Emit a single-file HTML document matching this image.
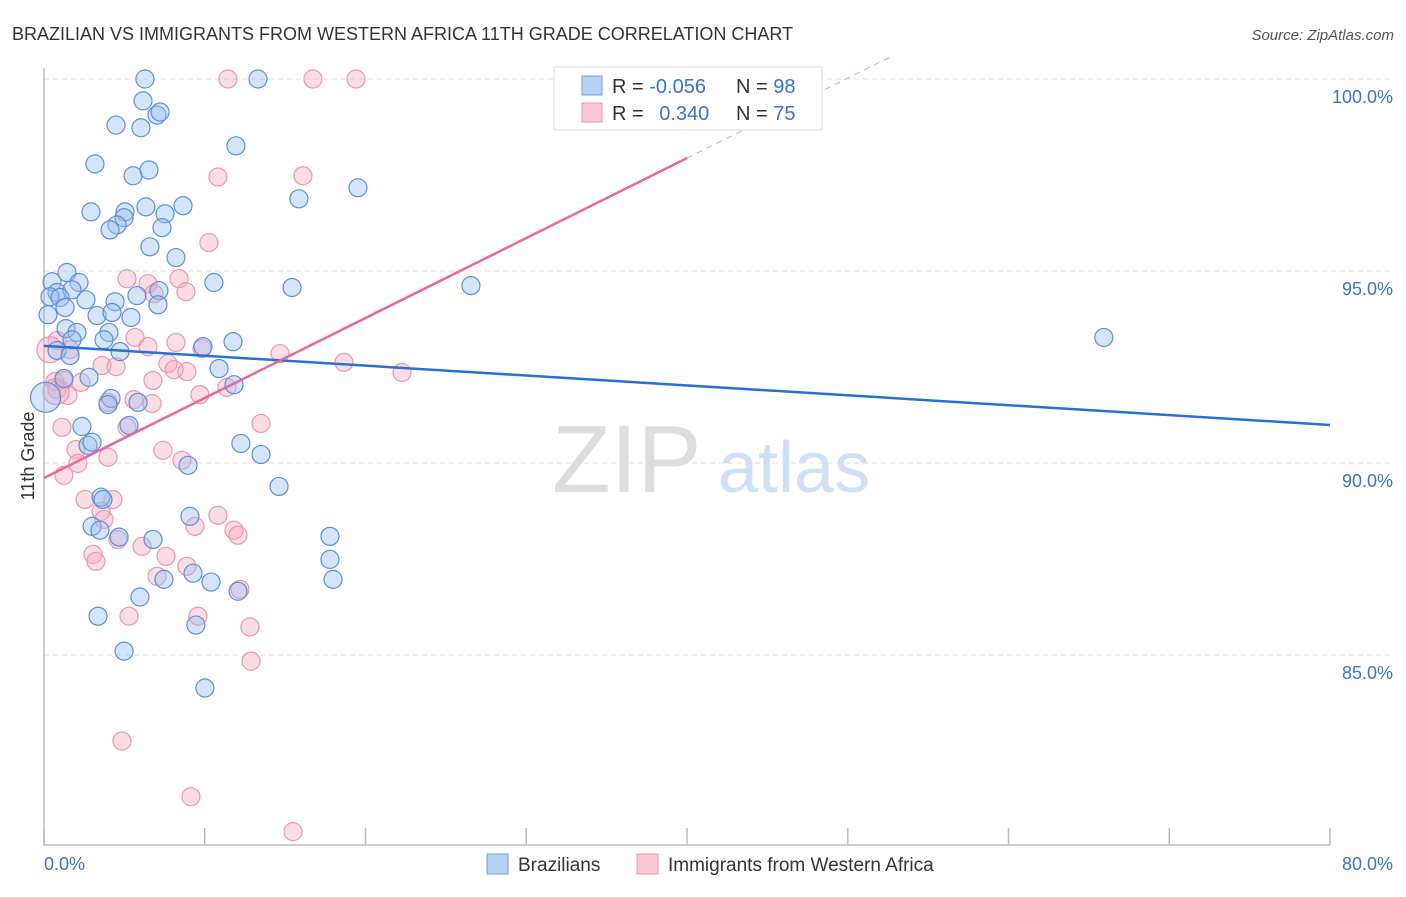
<!DOCTYPE html>
<html><head><meta charset="utf-8"><style>
body{margin:0;background:#fff;font-family:"Liberation Sans",sans-serif;}
svg text{font-family:"Liberation Sans",sans-serif;}
</style></head><body>
<svg id="chart" width="1406" height="892" xmlns="http://www.w3.org/2000/svg">
<text x="12" y="40" font-size="18" fill="#333">BRAZILIAN VS IMMIGRANTS FROM WESTERN AFRICA 11TH GRADE CORRELATION CHART</text>
<text x="1394" y="40" font-size="15" fill="#555" text-anchor="end" font-style="italic">Source: ZipAtlas.com</text>
<text x="552" y="492" font-size="96" fill="#ddd" font-family="Liberation Serif">ZIP</text>
<text x="718" y="492" font-size="72" fill="#cfe0f5">atlas</text>
<g id="grid"></g>
<g id="axes"></g>
<g id="pink"></g>
<g id="blue"></g>
<g id="trends"></g>
<text transform="translate(34,456) rotate(-90)" font-size="18" fill="#333" text-anchor="middle">11th Grade</text>
<g>
<rect x="554" y="67" width="268" height="63" fill="#fff" stroke="#ddd"/>
<rect x="582" y="76" width="20" height="19" fill="#b7d0f3" stroke="#6d9ce0"/>
<rect x="582" y="103" width="20" height="19" fill="#f9c6d4" stroke="#ec95ad"/>
<text x="612" y="93" font-size="20" fill="#333">R = <tspan fill="#3a72d0">-0.056</tspan></text>
<text x="736" y="93" font-size="20" fill="#333">N = <tspan fill="#3a72d0">98</tspan></text>
<text x="612" y="120" font-size="20" fill="#333">R = <tspan fill="#3a72d0" dx="10">0.340</tspan></text>
<text x="736" y="120" font-size="20" fill="#333">N = <tspan fill="#3a72d0">75</tspan></text>
</g>
<g>
<rect x="487" y="854" width="21" height="20" fill="#b7d0f3" stroke="#6d9ce0"/>
<text x="518" y="871" font-size="19" fill="#333">Brazilians</text>
<rect x="637" y="854" width="21" height="20" fill="#f9c6d4" stroke="#ec95ad"/>
<text x="668" y="871" font-size="19" fill="#333">Immigrants from Western Africa</text>
</g>
</svg>
<script>
const yTicks=[100,95,90,85];
const yTickLabels=["100.0%","95.0%","90.0%","85.0%"];
const xTicks=[0,10,20,30,40,50,60,70,80];
const blueX=[6.28,13.31,6.16,7.03,7.22,4.48,6.03,11.94,3.17,5.54,6.53,19.53,15.86,2.92,6.34,8.65,5.04,7.53,4.98,4.54,4.11,7.34,6.59,8.21,0.5,1.43,2.18,10.57,15.43,26.56,0.81,0.37,1.74,1.0,2.61,4.42,5.78,7.15,7.09,1.31,0.25,3.3,4.23,5.41,1.37,2.05,4.04,3.73,1.74,11.76,9.89,4.73,0.81,1.62,10.89,65.93,11.82,2.8,1.24,4.17,5.85,3.98,2.36,5.29,12.25,13.5,2.74,2.99,8.96,14.62,3.55,3.67,9.08,2.99,3.48,4.67,6.78,17.79,17.79,9.27,7.46,10.39,17.98,12.07,5.97,9.45,3.36,4.98,10.01,0.1];
const blueY=[100,100,99.43,99.06,99.14,98.8,98.73,98.26,97.79,97.48,97.63,97.17,96.88,96.54,96.67,96.7,96.54,96.49,96.39,96.2,96.07,96.13,95.63,95.35,94.72,94.96,94.7,94.7,94.57,94.62,94.44,94.33,94.51,94.31,94.25,94.2,94.36,94.49,94.12,94.05,93.86,93.84,93.92,93.79,93.5,93.4,93.4,93.21,93.21,93.16,93.03,92.9,92.93,92.8,92.46,93.27,92.04,92.23,92.2,91.68,91.58,91.52,90.95,90.98,90.51,90.22,90.46,90.54,89.94,89.39,89.11,89.05,88.61,88.35,88.25,88.07,88.01,88.09,87.49,87.13,86.97,86.9,86.97,86.66,86.51,85.78,86.01,85.1,84.14,91.71];
const pinkX=[11.44,16.73,19.41,10.82,16.11,10.26,5.16,6.47,8.4,8.83,6.84,0.81,1.62,5.66,8.21,6.47,9.83,14.68,18.66,22.27,3.61,4.48,7.71,8.89,8.09,0.68,1.24,2.3,0.81,1.49,6.78,11.38,9.7,5.6,3.98,6.72,13.5,5.16,1.12,1.99,7.4,8.58,3.98,2.11,1.24,2.55,4.29,3.55,3.73,10.82,9.39,11.82,12.07,4.6,6.1,7.59,3.05,3.23,7.03,8.89,12.19,5.29,9.58,12.81,12.88,4.85,9.14,15.49,0.75,0.37];
const pinkY=[100,100,100,97.45,97.48,95.74,94.8,94.67,94.8,94.46,94.41,93.19,92.95,93.27,93.14,93.03,92.98,92.85,92.62,92.36,92.54,92.51,92.59,92.38,92.43,92.12,92.15,92.1,91.91,91.76,92.15,91.97,91.78,91.65,91.58,91.55,91.03,90.93,90.93,90.35,90.33,90.07,90.15,89.99,89.68,89.05,89.05,88.74,88.53,88.64,88.35,88.25,88.12,88.01,87.83,87.57,87.62,87.44,87.05,87.31,86.71,86.01,86.01,85.73,84.84,82.76,81.31,80.4,91.86,92.95];
const blueTrend=[93.05,90.99];
const pinkTrend=[89.61,97.94];
const NS="http://www.w3.org/2000/svg";
const X=v=>44+v/80*1286;
const Y=v=>79+(100-v)/5*192;
function mk(parent,tag,attrs){const e=document.createElementNS(NS,tag);for(const k in attrs)e.setAttribute(k,attrs[k]);document.getElementById(parent).appendChild(e);return e;}
yTicks.forEach((t,i)=>{
 const l=mk('grid','line',{x1:44,x2:1393,y1:Y(t),y2:Y(t),stroke:'#ddd','stroke-dasharray':'5,4'});
 
 
 const tx=mk('grid','text',{x:1393,y:Y(t)+24,'font-size':18,fill:'#3a72d0','text-anchor':'end'});
 tx.textContent=yTickLabels[i];
 
 
});
const ax=mk('axes','path',{d:'M44 68 V845 H1330',fill:'none',stroke:'#bbb','stroke-width':1.5});


xTicks.forEach(t=>{
 const l=mk('axes','line',{x1:X(t),x2:X(t),y1:828,y2:845,stroke:'#bbb','stroke-width':1.5});
 
 
});
const xl0=mk('axes','text',{x:44,y:870,'font-size':18,fill:'#3a72d0'});xl0.textContent='0.0%';


const xl1=mk('axes','text',{x:1393,y:870,'font-size':18,fill:'#3a72d0','text-anchor':'end'});xl1.textContent='80.0%';


pinkX.forEach((v,i)=>{
 const c=mk('pink','circle',{cx:X(v),cy:Y(pinkY[i]),r:(i>=68?13:9),fill:'rgba(246,170,192,0.4)',stroke:'#ec95ad','stroke-width':1.2});
 
 
});
blueX.forEach((v,i)=>{
 const c=mk('blue','circle',{cx:X(v),cy:Y(blueY[i]),r:(i==blueX.length-1?15:9),fill:'rgba(150,190,240,0.4)',stroke:'#5b8fd9','stroke-width':1.2});
 
 
});
const bl=mk('trends','line',{x1:X(0),y1:Y(blueTrend[0]),x2:X(80),y2:Y(blueTrend[1]),stroke:'#2a6fd6','stroke-width':2.5});


const ps=(pinkTrend[1]-pinkTrend[0])/40;
const pl=mk('trends','line',{x1:X(0),y1:Y(pinkTrend[0]),x2:X(40),y2:Y(pinkTrend[1]),stroke:'#e8689a','stroke-width':2.5});


const xe=40+(100.6-pinkTrend[1])/ps;
const pd=mk('trends','line',{x1:X(40),y1:Y(pinkTrend[1]),x2:X(xe),y2:Y(pinkTrend[1]+ps*(xe-40)),stroke:'#e8a0b8','stroke-width':1,'stroke-dasharray':'6,5'});


</script>
</body></html>
